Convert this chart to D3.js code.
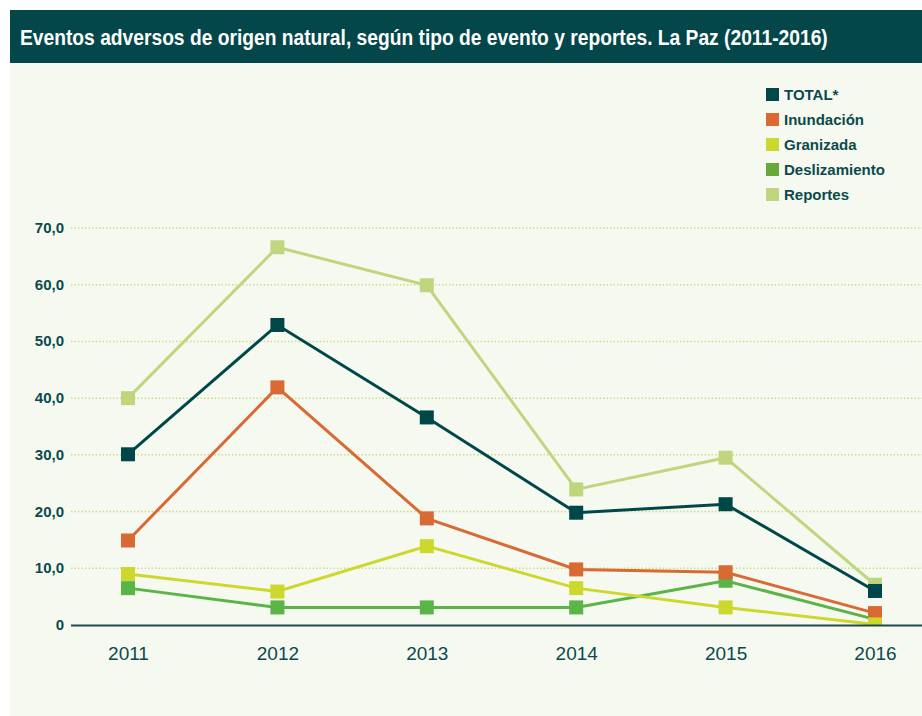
<!DOCTYPE html>
<html>
<head>
<meta charset="utf-8">
<script src="https://cdn.jsdelivr.net/npm/d3@7"></script>
<style>
  body { margin: 0; background: #ffffff; }
  text { font-family: "Liberation Sans", Arial, sans-serif; }
</style>
</head>
<body>
<div id="chart"></div>
<script>

// data
var years = ["2011", "2012", "2013", "2014", "2015", "2016"];
var total = [30.1, 52.9, 36.6, 19.8, 21.3, 6.0];
var inundacion = [14.9, 41.9, 18.8, 9.8, 9.3, 2.1];
var granizada = [9.0, 5.9, 13.9, 6.5, 3.1, 0.1];
var deslizamiento = [6.5, 3.1, 3.1, 3.1, 7.8, 1.0];
var reportes = [40.0, 66.6, 59.9, 23.9, 29.5, 7.1];
var yTicks = [0, 10, 20, 30, 40, 50, 60, 70];

var legendNames = ["TOTAL*", "Inundación", "Granizada", "Deslizamiento", "Reportes"];
var legendColors = ["#00474a", "#d96a33", "#cdd82e", "#68a83a", "#c0d67e"];

// drawing order: the lower series sit on top
var series = [
    {name: "Reportes", values: reportes, color: "#c0d67e"},
    {name: "TOTAL*", values: total, color: "#00474a"},
    {name: "Deslizamiento", values: deslizamiento, color: "#5ab446"},
    {name: "Inundación", values: inundacion, color: "#d96a33"},
    {name: "Granizada", values: granizada, color: "#cdd82e"}
];

var W = 922, H = 716;
var textColor = "#0b4a4c";

var svg = d3.select("#chart").append("svg")
    .attr("width", W)
    .attr("height", H);

// panel background
svg.append("rect")
    .attr("x", 10).attr("y", 62)
    .attr("width", W - 10).attr("height", H - 62)
    .attr("fill", "#f6f9f0");

// title bar
svg.append("rect")
    .attr("x", 10).attr("y", 10)
    .attr("width", W - 10).attr("height", 53)
    .attr("fill", "#03474a");

// the original uses a condensed face, so squeeze the title horizontally
var title = svg.append("text")
    .attr("fill", "#ffffff")
    .attr("font-size", 22)
    .attr("font-weight", "bold")
    .text("Eventos adversos de origen natural, según tipo de evento y reportes. La Paz (2011-2016)");
var sx = 808 / title.node().getComputedTextLength();
title.attr("transform", "translate(20,45) scale(" + sx + ",1)");

// scales
var x = d3.scalePoint()
    .domain(years)
    .range([128, 875]);

var y = d3.scaleLinear()
    .domain([0, 70])
    .range([625, 228]);

// grid lines
svg.selectAll("line.grid")
    .data(yTicks.filter(function(d) { return d > 0; }))
    .enter().append("line")
    .attr("class", "grid")
    .attr("x1", 71)
    .attr("x2", W)
    .attr("y1", function(d) { return y(d); })
    .attr("y2", function(d) { return y(d); })
    .attr("stroke", "#cddc8c")
    .attr("stroke-width", 1.5)
    .attr("stroke-dasharray", "1.5,2");

// y labels
svg.selectAll("text.ytick")
    .data(yTicks)
    .enter().append("text")
    .attr("class", "ytick")
    .attr("x", 64)
    .attr("y", function(d) { return y(d) + 5; })
    .attr("text-anchor", "end")
    .attr("fill", textColor)
    .attr("font-size", 15)
    .attr("font-weight", "bold")
    .text(function(d) { return d === 0 ? "0" : d3.format(".1f")(d).replace(".", ","); });

// x labels
var xAxis = svg.append("g")
    .attr("transform", "translate(0," + y(0) + ")")
    .call(d3.axisBottom(x).tickSize(0).tickPadding(22));
xAxis.select(".domain").remove();
xAxis.selectAll("text")
    .attr("fill", textColor)
    .attr("font-size", 19)
    .attr("font-family", "\"Liberation Sans\", Arial, sans-serif");

// clip markers at the zero line
svg.append("clipPath").attr("id", "plotclip")
    .append("rect")
    .attr("x", 0).attr("y", 0)
    .attr("width", W).attr("height", y(0));

var line = d3.line()
    .x(function(d, i) { return x(years[i]); })
    .y(function(d) { return y(d); });

var plot = svg.append("g").attr("clip-path", "url(#plotclip)");

series.forEach(function(s) {
    var g = plot.append("g");
    g.append("path")
        .datum(s.values)
        .attr("d", line)
        .attr("fill", "none")
        .attr("stroke", s.color)
        .attr("stroke-width", 3);

    g.selectAll("rect")
        .data(s.values)
        .enter().append("rect")
        .attr("x", function(d, i) { return x(years[i]) - 7; })
        .attr("y", function(d) { return y(d) - 7; })
        .attr("width", 14)
        .attr("height", 14)
        .attr("fill", s.color);
});

// zero line
svg.append("line")
    .attr("x1", 71).attr("x2", W)
    .attr("y1", y(0) + 0.5).attr("y2", y(0) + 0.5)
    .attr("stroke", "#1f4a4c")
    .attr("stroke-width", 2);

// legend
var legend = svg.selectAll("g.legend")
    .data(legendNames)
    .enter().append("g")
    .attr("class", "legend")
    .attr("transform", function(d, i) { return "translate(766," + (88 + i * 25) + ")"; });

legend.append("rect")
    .attr("width", 13)
    .attr("height", 13)
    .attr("fill", function(d, i) { return legendColors[i]; });

legend.append("text")
    .attr("x", 18)
    .attr("y", 12)
    .attr("fill", textColor)
    .attr("font-size", 15)
    .attr("font-weight", "bold")
    .text(function(d) { return d; });

</script>
</body>
</html>
